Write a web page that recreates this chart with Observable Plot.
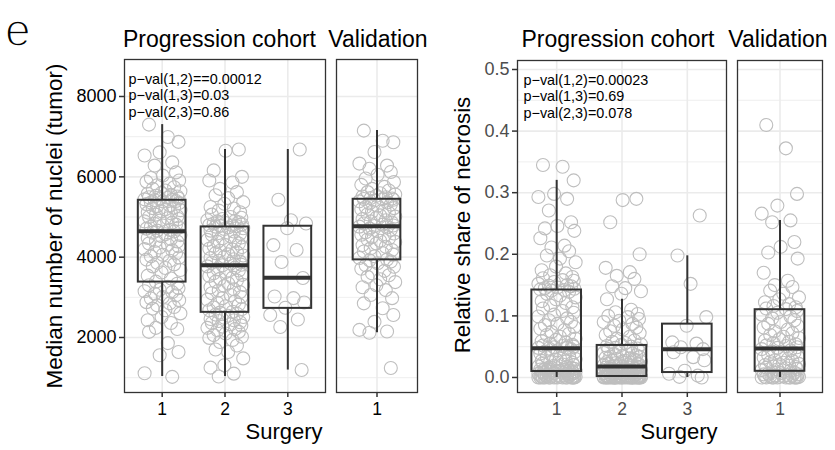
<!DOCTYPE html>
<html><head><meta charset="utf-8">
<script src="https://cdn.jsdelivr.net/npm/d3@7"></script>
<script src="https://cdn.jsdelivr.net/npm/@observablehq/plot@0.6"></script>
<style>
html,body{margin:0;padding:0;background:#fff;}
#chart{position:relative;width:835px;height:450px;font-family:"Liberation Sans",Arial,sans-serif;}
#chart svg{position:absolute;left:0;top:0;}
</style></head><body><div id="chart"></div>
<script>
// ---------- data ----------
const panelTitles = ["Progression cohort", "Validation"];
const xTitle = "Surgery";
const leftYTitle = "Median number of nuclei (tumor)";
const rightYTitle = "Relative share of necrosis";
const progCategories = [1, 2, 3];
const valCategories = [1];

const leftYTicks = [2000, 4000, 6000, 8000];
const leftYMinor = [1000, 3000, 5000, 7000];
const rightYTicks = [0, 0.1, 0.2, 0.3, 0.4, 0.5];
const rightYMinor = [0.05, 0.15, 0.25, 0.35, 0.45];

const leftPvals = ["p\u2212val(1,2)==0.00012", "p\u2212val(1,3)=0.03", "p\u2212val(2,3)=0.86"];
const rightPvals = ["p\u2212val(1,2)=0.00023", "p\u2212val(1,3)=0.69", "p\u2212val(2,3)=0.078"];

// box statistics: lower whisker, Q1, median, Q3, upper whisker
const leftProgLo = [1030, 1030, 1190];
const leftProgQ1 = [3380, 2626, 2725];
const leftProgMed = [4646, 3800, 3486];
const leftProgQ3 = [5416, 4753, 4770];
const leftProgHi = [7300, 6683, 6680];
const leftValLo = [2120], leftValQ1 = [3933], leftValMed = [4770], leftValQ3 = [5441], leftValHi = [7155];

const rightProgLo = [0, 0, 0];
const rightProgQ1 = [0.0097, 0.0016, 0.008];
const rightProgMed = [0.0476, 0.018, 0.046];
const rightProgQ3 = [0.142, 0.052, 0.0866];
const rightProgHi = [0.320, 0.127, 0.1975];
const rightValLo = [0], rightValQ1 = [0.010], rightValMed = [0.047], rightValQ3 = [0.110], rightValHi = [0.255];

// individual observations
const leftProg1 = [7300, 6990, 6870, 6610, 6530, 6360, 6280, 6110, 6030, 5970, 5910, 5880, 5830, 5790, 5740, 5700, 5660, 5640, 5600, 5580, 5550, 5530, 5510, 5490, 5480, 5460, 5450, 5440, 5430, 5420,
 5400, 5390, 5360, 5350, 5320, 5290, 5270, 5230, 5220, 5190, 5170, 5140, 5110, 5090, 5060, 5020, 5000, 4970, 4950, 4910, 4890, 4860, 4830, 4810, 4790, 4760, 4740, 4710, 4680, 4660,
 4640, 4610, 4570, 4550, 4520, 4480, 4450, 4410, 4390, 4340, 4310, 4270, 4240, 4200, 4170, 4130, 4090, 4060, 4020, 3990, 3940, 3910, 3860, 3820, 3770, 3730, 3680, 3620, 3540, 3470,
 3390, 3340, 3300, 3260, 3230, 3190, 3150, 3130, 3090, 3050, 3010, 2970, 2930, 2880, 2850, 2800, 2760, 2720, 2680, 2600, 2510, 2430, 2360, 2240, 2210, 2140, 1860, 1640, 1560, 1110, 1020];
const leftProg2 = [6680, 6650, 6160, 6000, 5910, 5860, 5700, 5620, 5540, 5470, 5370, 5330, 5250, 5210, 5160, 5120, 5060, 5000, 4980, 4950, 4920, 4900, 4890, 4870, 4850, 4840, 4820, 4800, 4790, 4780, 4770, 4760,
 4740, 4720, 4700, 4660, 4640, 4600, 4580, 4560, 4520, 4490, 4470, 4430, 4400, 4380, 4340, 4300, 4280, 4250, 4210, 4190, 4160, 4120, 4100, 4070, 4040, 4010, 3980, 3950, 3910, 3890, 3860, 3840, 3810,
 3800, 3770, 3740, 3700, 3670, 3630, 3600, 3560, 3530, 3490, 3460, 3420, 3390, 3350, 3310, 3280, 3250, 3200, 3170, 3130, 3100, 3060, 3010, 2980, 2940, 2900, 2860, 2820, 2780, 2750, 2710, 2680, 2640,
 2620, 2590, 2570, 2540, 2510, 2490, 2460, 2430, 2410, 2380, 2360, 2330, 2300, 2270, 2240, 2210, 2180, 2140, 2100, 2060, 2020, 1990, 1940, 1890, 1800, 1700, 1640, 1480, 1310, 1250, 1100, 1030];
const leftProg3 = [6680, 5430, 4920, 4840, 4720, 4300, 4180, 3880, 3480, 3020, 2980, 2870, 2740, 2560, 2450, 2260, 1190];
const leftVal1 = [7150, 6900, 6860, 6620, 6330, 6280, 6200, 6120, 6050, 5960, 5870, 5800, 5750, 5700, 5660, 5620, 5590, 5560, 5530, 5510, 5490, 5470, 5460, 5450, 5445,
 5430, 5410, 5390, 5360, 5340, 5310, 5280, 5250, 5220, 5190, 5160, 5130, 5100, 5070, 5040, 5010, 4980, 4950, 4920, 4890, 4860, 4840, 4810, 4790, 4775,
 4760, 4740, 4710, 4680, 4650, 4620, 4590, 4560, 4530, 4500, 4470, 4440, 4410, 4380, 4340, 4300, 4260, 4220, 4180, 4140, 4100, 4060, 4020, 3980, 3940,
 3920, 3890, 3850, 3800, 3760, 3710, 3660, 3600, 3550, 3510, 3450, 3380, 3300, 3250, 3180, 3060, 2980, 2850, 2730, 2560, 2390, 2190, 2150, 2120, 1240];

const rightProg1 = [0.345, 0.342, 0.320, 0.298, 0.293, 0.290, 0.271, 0.252, 0.246, 0.242, 0.238, 0.226, 0.214, 0.211, 0.205, 0.198, 0.193, 0.187, 0.180, 0.174, 0.169, 0.166, 0.163, 0.161, 0.158, 0.157, 0.155, 0.152, 0.150, 0.149, 0.148, 0.146, 0.145, 0.144, 0.143, 0.142, 0.141,
 0.139, 0.136, 0.133, 0.130, 0.127, 0.124, 0.121, 0.117, 0.114, 0.112, 0.108, 0.105, 0.102, 0.099, 0.096, 0.093, 0.090, 0.087, 0.085, 0.082, 0.079, 0.077, 0.074, 0.071, 0.069, 0.066, 0.063, 0.061, 0.059, 0.057, 0.055, 0.053, 0.052, 0.051, 0.050, 0.049, 0.048, 0.048,
 0.047, 0.046, 0.044, 0.042, 0.041, 0.039, 0.037, 0.036, 0.034, 0.033, 0.031, 0.030, 0.029, 0.027, 0.026, 0.025, 0.024, 0.023, 0.021, 0.020, 0.019, 0.018, 0.017, 0.016, 0.016, 0.015, 0.014, 0.014, 0.013, 0.012, 0.012, 0.011, 0.011, 0.011, 0.010, 0.010, 0.010, 0.010,
 0.009, 0.009, 0.008, 0.008, 0.007, 0.007, 0.006, 0.006, 0.005, 0.005, 0.004, 0.004, 0.003, 0.003, 0.003, 0.002, 0.002, 0.002, 0.001, 0.001, 0.001, 0.001, 0, 0, 0, 0, 0, 0, 0, 0, 0, 0, 0, 0, 0, 0, 0];
const rightProg2 = [0.290, 0.288, 0.252, 0.200, 0.178, 0.171, 0.165, 0.160, 0.148, 0.145, 0.140, 0.136, 0.127, 0.110, 0.106, 0.103, 0.100, 0.098, 0.095, 0.092, 0.090, 0.087, 0.084, 0.081, 0.078, 0.075, 0.072, 0.069, 0.066, 0.063, 0.060, 0.058, 0.056, 0.054, 0.053,
 0.051, 0.050, 0.048, 0.047, 0.046, 0.044, 0.043, 0.042, 0.040, 0.039, 0.038, 0.036, 0.035, 0.034, 0.033, 0.032, 0.031, 0.030, 0.029, 0.028, 0.027, 0.026, 0.025, 0.025, 0.024, 0.023, 0.022, 0.022, 0.021, 0.021, 0.020, 0.020, 0.019, 0.019, 0.018,
 0.018, 0.017, 0.017, 0.016, 0.016, 0.015, 0.014, 0.014, 0.013, 0.012, 0.012, 0.011, 0.010, 0.010, 0.009, 0.009, 0.008, 0.008, 0.007, 0.007, 0.006, 0.006, 0.005, 0.005, 0.004, 0.004, 0.004, 0.003, 0.003, 0.003, 0.002, 0.002, 0.002, 0.002, 0.002,
 0.001, 0.001, 0.001, 0.001, 0.001, 0.001, 0.001, 0.001, 0, 0, 0, 0, 0, 0, 0, 0, 0, 0, 0, 0, 0, 0, 0, 0, 0, 0, 0, 0, 0, 0, 0, 0, 0];
const rightProg3 = [0.263, 0.198, 0.152, 0.098, 0.084, 0.057, 0.055, 0.049, 0.046, 0.041, 0.033, 0.028, 0.011, 0.006, 0.003, 0.001, 0];
const rightVal1 = [0.410, 0.372, 0.298, 0.279, 0.266, 0.255, 0.252, 0.220, 0.212, 0.203, 0.193, 0.170, 0.157, 0.150, 0.147, 0.141, 0.136, 0.130, 0.127, 0.122, 0.119, 0.116, 0.114, 0.112, 0.111,
 0.108, 0.105, 0.102, 0.099, 0.096, 0.093, 0.090, 0.087, 0.084, 0.081, 0.078, 0.075, 0.072, 0.069, 0.066, 0.064, 0.062, 0.060, 0.058, 0.056, 0.054, 0.052, 0.051, 0.049, 0.048,
 0.046, 0.044, 0.042, 0.040, 0.038, 0.036, 0.034, 0.032, 0.030, 0.028, 0.027, 0.025, 0.024, 0.022, 0.021, 0.020, 0.019, 0.018, 0.017, 0.016, 0.015, 0.014, 0.013, 0.012, 0.011,
 0.009, 0.008, 0.007, 0.006, 0.005, 0.005, 0.004, 0.003, 0.003, 0.002, 0.002, 0.001, 0.001, 0.001, 0, 0, 0, 0, 0, 0, 0, 0, 0, 0, 0];

// fixed horizontal jitter pattern (fraction of a category)
const jitterPattern = [-0.21, 0.09, 0.26, -0.04, -0.28, 0.16, -0.12, 0.22, 0.01, -0.18, 0.27, -0.25, 0.12, -0.08, 0.19, -0.15, 0.05, 0.29, -0.01, -0.23, 0.14, -0.10, 0.24];

// ---------- helpers ----------
const FONT = '"Liberation Sans", Arial, sans-serif';
const BOXHALF = 0.38;
const DARK = "#333333";

function toPoints(series, cats) {
  const out = [];
  series.forEach((vals, k) => vals.forEach((v, i) => out.push({x: cats[k] + jitterPattern[(i + 7 * k) % jitterPattern.length], v})));
  return out;
}
function toStats(cats, lo, q1, med, q3, hi) {
  return cats.map((x, i) => ({x, lo: lo[i], q1: q1[i], med: med[i], q3: q3[i], hi: hi[i]}));
}

function panel(cfg) {
  const marks = [
    Plot.gridY(cfg.yMinor, {stroke: "#ebebeb", strokeOpacity: 1, strokeWidth: 0.8}),
    Plot.gridY(cfg.yTicks, {stroke: "#ebebeb", strokeOpacity: 1, strokeWidth: 1.6}),
    Plot.gridX(cfg.cats, {stroke: "#ebebeb", strokeOpacity: 1, strokeWidth: 1.6}),
    Plot.dot(cfg.points, {x: "x", y: "v", r: 6.5, stroke: "#bebebe", strokeWidth: 1.1, fill: "none"}),
    Plot.ruleX(cfg.stats, {x: "x", y1: "q3", y2: "hi", stroke: DARK, strokeWidth: 2}),
    Plot.ruleX(cfg.stats, {x: "x", y1: "lo", y2: "q1", stroke: DARK, strokeWidth: 2}),
    Plot.rect(cfg.stats, {x1: d => d.x - BOXHALF, x2: d => d.x + BOXHALF, y1: "q1", y2: "q3", fill: "none", stroke: DARK, strokeWidth: 2}),
    Plot.ruleY(cfg.stats, {x1: d => d.x - BOXHALF, x2: d => d.x + BOXHALF, y: "med", stroke: DARK, strokeWidth: 4}),
    Plot.frame({stroke: DARK, strokeWidth: 1.3}),
    Plot.axisX(cfg.cats, {tickSize: 5, tickPadding: 5, fontSize: 17.5, stroke: DARK, strokeWidth: 1.5, color: cfg.textColor, label: null, tickFormat: d => String(d)})
  ];
  if (cfg.showY) marks.push(Plot.axisY(cfg.yTicks, {tickSize: 5, tickPadding: 3, fontSize: 18, stroke: DARK, strokeWidth: 1.5, color: cfg.textColor, label: null, tickFormat: cfg.yFormat}));
  if (cfg.pvals) marks.push(Plot.text([cfg.pvals.join("\n")], {frameAnchor: "top-left", dx: cfg.pdx, dy: 13, textAnchor: "start", lineAnchor: "top", lineHeight: 1.13, fontSize: 14.4, fill: "#000"}));
  return Plot.plot({
    width: 835, height: 450,
    marginLeft: cfg.x0, marginRight: 835 - cfg.x1, marginTop: cfg.y0, marginBottom: 450 - cfg.y1,
    x: {domain: cfg.xDomain, axis: null},
    y: {domain: cfg.yDomain, axis: null},
    style: {background: "transparent", fontFamily: FONT, overflow: "visible"},
    marks
  });
}

const chart = document.getElementById("chart");
const leftYDomain = [631, 8921];
const rightYDomain = [-0.0244, 0.5146];
const leftFmt = d => String(d);
const rightFmt = d3.format(".1f");

chart.append(panel({x0: 124, x1: 325, y0: 59, y1: 392, xDomain: [0.4, 3.6], yDomain: leftYDomain, cats: progCategories,
  yTicks: leftYTicks, yMinor: leftYMinor, showY: true, yFormat: leftFmt, textColor: "#000", pvals: leftPvals, pdx: 4,
  points: toPoints([leftProg1, leftProg2, leftProg3], progCategories),
  stats: toStats(progCategories, leftProgLo, leftProgQ1, leftProgMed, leftProgQ3, leftProgHi)}));
chart.append(panel({x0: 336, x1: 417, y0: 59, y1: 392, xDomain: [0.355, 1.645], yDomain: leftYDomain, cats: valCategories,
  yTicks: leftYTicks, yMinor: leftYMinor, showY: false, textColor: "#000",
  points: toPoints([leftVal1], valCategories),
  stats: toStats(valCategories, leftValLo, leftValQ1, leftValMed, leftValQ3, leftValHi)}));
chart.append(panel({x0: 517, x1: 726, y0: 60, y1: 392, xDomain: [0.4, 3.6], yDomain: rightYDomain, cats: progCategories,
  yTicks: rightYTicks, yMinor: rightYMinor, showY: true, yFormat: rightFmt, textColor: "#4d4d4d", pvals: rightPvals, pdx: 6,
  points: toPoints([rightProg1, rightProg2, rightProg3], progCategories),
  stats: toStats(progCategories, rightProgLo, rightProgQ1, rightProgMed, rightProgQ3, rightProgHi)}));
chart.append(panel({x0: 737, x1: 822, y0: 60, y1: 392, xDomain: [0.35, 1.65], yDomain: rightYDomain, cats: valCategories,
  yTicks: rightYTicks, yMinor: rightYMinor, showY: false, textColor: "#4d4d4d",
  points: toPoints([rightVal1], valCategories),
  stats: toStats(valCategories, rightValLo, rightValQ1, rightValMed, rightValQ3, rightValHi)}));

// ---------- titles and axis titles ----------
const svg = d3.select(chart).append("svg").attr("width", 835).attr("height", 450)
  .style("font-family", FONT).style("pointer-events", "none");
// thin panel tag: a white outline painted over the glyph lightens its stroke
svg.append("text").attr("x", 5).attr("y", 46).attr("font-size", 46).attr("fill", "#000")
  .attr("stroke", "#fff").attr("stroke-width", 1.6).text("e");
const titlePos = [[219.5, 378], [618, 778]];
titlePos.forEach(([a, b]) => {
  svg.append("text").attr("x", a).attr("y", 46.7).attr("text-anchor", "middle").attr("font-size", 23).attr("fill", "#000").text(panelTitles[0]);
  svg.append("text").attr("x", b).attr("y", 46.7).attr("text-anchor", "middle").attr("font-size", 23).attr("fill", "#000").text(panelTitles[1]);
});
[284, 679].forEach(x => svg.append("text").attr("x", x).attr("y", 439).attr("text-anchor", "middle").attr("font-size", 22).attr("fill", "#000").text(xTitle));
svg.append("text").attr("transform", "translate(62,226) rotate(-90)").attr("text-anchor", "middle").attr("font-size", 22.5).attr("fill", "#000").text(leftYTitle);
svg.append("text").attr("transform", "translate(470,225) rotate(-90)").attr("text-anchor", "middle").attr("font-size", 22.3).attr("fill", "#000").text(rightYTitle);
</script>
</body></html>
